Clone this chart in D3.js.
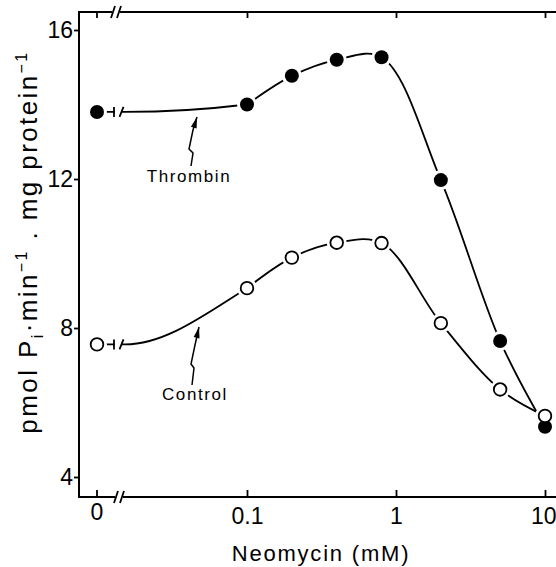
<!DOCTYPE html>
<html>
<head>
<meta charset="utf-8">
<script src="https://cdn.jsdelivr.net/npm/d3@7/dist/d3.min.js"></script>
<style>
  html, body { margin: 0; padding: 0; background: #fff; }
  svg { display: block; }
  text { font-family: "Liberation Sans", Arial, sans-serif; fill: #000; }
</style>
</head>
<body>
<svg id="chart" width="556" height="567"></svg>
<script>
// ---- data ----
const concentrations = [0, 0.1, 0.2, 0.4, 0.8, 2, 5, 10];      // Neomycin, mM
const thrombinValues = [13.8, 14.0, 14.77, 15.2, 15.27, 11.97, 7.65, 5.35];
const controlValues  = [7.56, 9.07, 9.89, 10.29, 10.28, 8.13, 6.35, 5.64];
const xTickValues = [0.1, 1, 10];
const xTickLabels = ["0.1", "1", "10"];
const zeroTickLabel = "0";
const yTickValues = [4, 8, 12, 16];
const curveResumeConc = 0.0152;   // where the curve resumes after the axis break
const seriesNames = ["Thrombin", "Control"];

// ---- layout ----
const W = 556, H = 567;
const frameLeft = 79, frameTop = 12, frameBottom = 497, frameRight = 560;
const zeroX = 97;

const svg = d3.select("#chart");
const defs = svg.append("defs");

const x = d3.scaleLog().domain([0.1, 10]).range([247, 545]);
const y = d3.scaleLinear().domain([4, 16]).range([477, 30]);
const xPos = c => c === 0 ? zeroX : x(c);

const g = svg.append("g");

// ---- frame / axes ----
const axisStroke = 2;
function hline(y0, x0, x1) {
  g.append("line").attr("x1", x0).attr("x2", x1).attr("y1", y0).attr("y2", y0)
    .attr("stroke", "#000").attr("stroke-width", axisStroke);
}
g.append("line").attr("x1", frameLeft).attr("x2", frameLeft)
  .attr("y1", frameTop - 1).attr("y2", frameBottom + 1)
  .attr("stroke", "#000").attr("stroke-width", axisStroke);
hline(frameTop, frameLeft, 112);
hline(frameTop, 120, frameRight);
hline(frameBottom, frameLeft, 115);
hline(frameBottom, 123, frameRight);
function breakMarks(yc, xa, xb) {
  [xa, xb].forEach(xx => {
    g.append("line").attr("x1", xx - 2).attr("x2", xx + 2)
      .attr("y1", yc + 6).attr("y2", yc - 6)
      .attr("stroke", "#000").attr("stroke-width", 1.8);
  });
}
breakMarks(frameTop, 113, 119);
breakMarks(frameBottom, 116, 122);

// y axis
const yAxis = d3.axisLeft(y).tickValues(yTickValues).tickSize(5).tickPadding(1);
const yAxisG = g.append("g").attr("transform", `translate(${frameLeft},0)`).call(yAxis);
yAxisG.select(".domain").remove();
yAxisG.selectAll(".tick line").attr("stroke-width", 1.8);
yAxisG.selectAll(".tick text").attr("font-size", 23)
  .attr("font-family", "'Liberation Sans', Arial, sans-serif");

// bottom axis (ticks inward)
const xAxis = d3.axisBottom(x).tickValues(xTickValues).tickSize(-7).tickPadding(11)
  .tickFormat((d, i) => xTickLabels[i]);
const xAxisG = g.append("g").attr("transform", `translate(0,${frameBottom})`).call(xAxis);
xAxisG.select(".domain").remove();
xAxisG.selectAll(".tick line").attr("stroke-width", 1.8);
xAxisG.selectAll(".tick text").attr("font-size", 23)
  .attr("font-family", "'Liberation Sans', Arial, sans-serif");
xAxisG.selectAll(".tick text").filter(d => d === 10).attr("text-anchor", "end").attr("x", 11);
// zero tick
g.append("line").attr("x1", zeroX).attr("x2", zeroX)
  .attr("y1", frameBottom).attr("y2", frameBottom - 7)
  .attr("stroke", "#000").attr("stroke-width", 1.8);
g.append("text").attr("x", zeroX).attr("y", frameBottom + 23)
  .attr("text-anchor", "middle").attr("font-size", 23).text(zeroTickLabel);

// top axis ticks (inward)
const xTop = d3.axisTop(x).tickValues(xTickValues).tickSize(-6).tickFormat("");
const xTopG = g.append("g").attr("transform", `translate(0,${frameTop})`).call(xTop);
xTopG.select(".domain").remove();
xTopG.selectAll(".tick line").attr("stroke-width", 1.8);
g.append("line").attr("x1", zeroX).attr("x2", zeroX)
  .attr("y1", frameTop).attr("y2", frameTop + 6)
  .attr("stroke", "#000").attr("stroke-width", 1.8);

// ---- series ----
const series = [
  { name: seriesNames[0], values: thrombinValues, filled: true },
  { name: seriesNames[1], values: controlValues, filled: false }
];

// lead-in part (zero point -> 0.1) uses a monotone curve; the rest Catmull-Rom
const leadLine = d3.line().x(d => xPos(d.c)).y(d => y(d.v)).curve(d3.curveMonotoneX);
const mainLine = d3.line().x(d => x(d.c)).y(d => y(d.v)).curve(d3.curveCatmullRom.alpha(0.5));

defs.append("clipPath").attr("id", "leadClip").append("rect")
  .attr("x", 0).attr("y", 0).attr("width", x(0.1)).attr("height", H);

series.forEach(s => {
  const pts = concentrations.map((c, i) => ({ c, v: s.values[i] }));
  const zeroV = pts[0].v;
  const yz = y(zeroV);
  const leadPts = [pts[0], { c: curveResumeConc, v: zeroV }, pts[1], pts[2]];
  g.append("path").datum(leadPts).attr("d", leadLine)
    .attr("clip-path", "url(#leadClip)")
    .attr("fill", "none").attr("stroke", "#000").attr("stroke-width", 1.8);
  g.append("path").datum(pts.slice(1)).attr("d", mainLine)
    .attr("fill", "none").attr("stroke", "#000").attr("stroke-width", 1.8);
  // break in the line
  g.append("line").attr("x1", 115).attr("x2", 121).attr("y1", yz).attr("y2", yz)
    .attr("stroke", "#fff").attr("stroke-width", 4);
  g.append("line").attr("x1", 114).attr("x2", 114).attr("y1", yz - 5).attr("y2", yz + 5)
    .attr("stroke", "#000").attr("stroke-width", 1.8);
  g.append("line").attr("x1", 119.5).attr("x2", 123.5).attr("y1", yz + 5).attr("y2", yz - 5)
    .attr("stroke", "#000").attr("stroke-width", 1.8);
});

series.forEach(s => {
  const pts = concentrations.map((c, i) => ({ c, v: s.values[i] }));
  g.selectAll(null).data(pts).enter().append("circle")
    .attr("cx", d => xPos(d.c)).attr("cy", d => y(d.v)).attr("r", 10)
    .attr("fill", "#fff");
});
series.forEach(s => {
  const pts = concentrations.map((c, i) => ({ c, v: s.values[i] }));
  g.selectAll(null).data(pts).enter().append("circle")
    .attr("cx", d => xPos(d.c)).attr("cy", d => y(d.v))
    .attr("r", s.filled ? 7 : 6.3)
    .attr("fill", s.filled ? "#000" : "#fff")
    .attr("stroke", "#000").attr("stroke-width", s.filled ? 0 : 1.8);
});

// ---- annotations ----
function zigzag(pts) {
  g.append("path").attr("d", d3.line()(pts)).attr("fill", "none")
    .attr("stroke", "#000").attr("stroke-width", 1.5);
  const [tx, ty] = pts[pts.length - 1];
  const [px, py] = pts[pts.length - 2];
  const ang = Math.atan2(ty - py, tx - px);
  const L = 11, Wd = 3;
  const bx = tx - L * Math.cos(ang), by = ty - L * Math.sin(ang);
  g.append("path").attr("d", d3.line()([
    [tx, ty],
    [bx + Wd * Math.sin(ang), by - Wd * Math.cos(ang)],
    [bx - Wd * Math.sin(ang), by + Wd * Math.cos(ang)]
  ]) + "Z").attr("fill", "#000");
}
zigzag([[191, 166], [193, 153], [189, 149], [193, 130], [197, 117]]);
zigzag([[192, 385], [194, 368], [191, 364], [195, 345], [199, 327]]);

g.append("text").attr("x", 189).attr("y", 182).attr("text-anchor", "middle")
  .attr("font-size", 17).attr("letter-spacing", 1.6).text(seriesNames[0]);
g.append("text").attr("x", 195).attr("y", 400).attr("text-anchor", "middle")
  .attr("font-size", 17).attr("letter-spacing", 1.6).text(seriesNames[1]);

// ---- axis titles ----
g.append("text").attr("x", 321).attr("y", 561).attr("text-anchor", "middle")
  .attr("font-size", 22).attr("letter-spacing", 1.8).text("Neomycin (mM)");

const yl = g.append("text").attr("transform", "translate(37,242) rotate(-90)")
  .attr("text-anchor", "middle").attr("font-size", 26).attr("letter-spacing", 2.4);
yl.append("tspan").text("pmol  P");
yl.append("tspan").attr("font-size", 16).attr("dy", 6).text("i");
yl.append("tspan").attr("dy", -6).text("·min");
yl.append("tspan").attr("font-size", 16).attr("dy", -10).text("−1");
yl.append("tspan").attr("dy", 10).text(" . mg  protein");
yl.append("tspan").attr("font-size", 16).attr("dy", -10).text("−1");
</script>
</body>
</html>
